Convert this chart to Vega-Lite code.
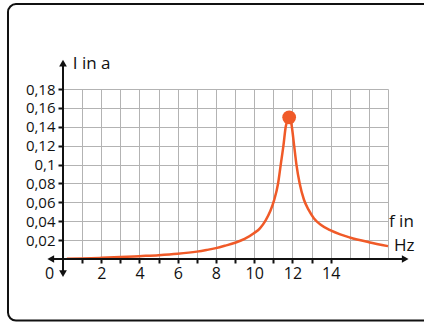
{
  "$schema": "https://vega.github.io/schema/vega-lite/v6.json",
  "width": 325,
  "height": 170,
  "autosize": "none",
  "padding": {"left": 63, "top": 89, "right": 36, "bottom": 64},
  "background": "white",
  "config": {
    "view": {"stroke": null},
    "font": "Open Sans",
    "axis": {"labelFont": "Open Sans", "labelFontSize": 16, "labelColor": "#111111", "domain": false, "gridColor": "#b3b3b3", "gridWidth": 1, "tickColor": "#111111", "tickWidth": 2}
  },
  "datasets": {
    "curve": [
      {"f": 0.2, "I": 0.0003}, {"f": 1, "I": 0.0006}, {"f": 2, "I": 0.0012}, {"f": 3, "I": 0.002},
      {"f": 4, "I": 0.003}, {"f": 5, "I": 0.004}, {"f": 6, "I": 0.0055}, {"f": 7, "I": 0.0078},
      {"f": 7.5, "I": 0.0095}, {"f": 8, "I": 0.0115}, {"f": 8.5, "I": 0.0142}, {"f": 9, "I": 0.0172},
      {"f": 9.5, "I": 0.0212}, {"f": 10, "I": 0.0275}, {"f": 10.3, "I": 0.0325}, {"f": 10.6, "I": 0.041},
      {"f": 10.85, "I": 0.051}, {"f": 11.04, "I": 0.062}, {"f": 11.25, "I": 0.08}, {"f": 11.39, "I": 0.1},
      {"f": 11.53, "I": 0.12}, {"f": 11.65, "I": 0.14}, {"f": 11.76, "I": 0.148}, {"f": 11.83, "I": 0.15},
      {"f": 11.9, "I": 0.148}, {"f": 11.97, "I": 0.14}, {"f": 12.09, "I": 0.12}, {"f": 12.21, "I": 0.1},
      {"f": 12.38, "I": 0.08}, {"f": 12.6, "I": 0.063}, {"f": 12.85, "I": 0.052}, {"f": 13.13, "I": 0.043},
      {"f": 13.5, "I": 0.036}, {"f": 14, "I": 0.0302}, {"f": 14.5, "I": 0.026}, {"f": 15, "I": 0.0228},
      {"f": 16, "I": 0.0178}, {"f": 17, "I": 0.0136}
    ],
    "peak": [{"f": 11.83, "I": 0.15}],
    "one": [{}]
  },
  "layer": [
    {
      "data": {"name": "curve"},
      "mark": {"type": "line", "color": "#f05a28", "strokeWidth": 2.5, "interpolate": "monotone"},
      "encoding": {
        "x": {"field": "f", "type": "quantitative", "scale": {"domain": [0, 17], "nice": false, "zero": false},
          "axis": {"title": null, "values": [0,1,2,3,4,5,6,7,8,9,10,11,12,13,14,15,16,17], "tickCount": 40, "grid": true,
            "tickSize": 4, "labelPadding": 2, "labelFlush": false, "labelOverlap": false,
            "labelExpr": "datum.value == 0 ? '0' : (datum.value % 2 == 0 && datum.value <= 14 ? '' + datum.value : '')",
            "labelOffset": {"condition": {"test": "datum.value == 0", "value": -14}, "value": 0},
            "tickOpacity": {"condition": {"test": "datum.value == 0 || datum.value > 14", "value": 0}, "value": 1}}},
        "y": {"field": "I", "type": "quantitative", "scale": {"domain": [0, 0.18], "nice": false, "zero": false},
          "axis": {"title": null, "values": [0, 0.02, 0.04, 0.06, 0.08, 0.1, 0.12, 0.14, 0.16, 0.18], "tickCount": 40, "grid": true,
            "tickSize": 5, "labelPadding": 3, "labelFlush": false, "labelOverlap": false, "labelFontSize": 15,
            "labelExpr": "datum.value == 0 ? '' : replace(format(datum.value, '.2~f'), '.', ',')",
            "tickOpacity": {"condition": {"test": "datum.value == 0", "value": 0}, "value": 1}}}
      }
    },
    {
      "data": {"name": "peak"},
      "mark": {"type": "point", "filled": true, "color": "#f05a28", "opacity": 1, "size": 190},
      "encoding": {
        "x": {"field": "f", "type": "quantitative", "scale": {"domain": [0, 17], "nice": false, "zero": false}},
        "y": {"field": "I", "type": "quantitative", "scale": {"domain": [0, 0.18], "nice": false, "zero": false}}
      }
    },
    {
      "data": {"name": "one"},
      "mark": {"type": "rule", "color": "#111111", "strokeWidth": 2},
      "encoding": {
        "x": {"datum": -0.6, "type": "quantitative", "scale": {"domain": [0, 17], "nice": false, "zero": false}},
        "x2": {"datum": 17.85},
        "y": {"datum": 0, "type": "quantitative", "scale": {"domain": [0, 0.18], "nice": false, "zero": false}}
      }
    },
    {
      "data": {"name": "one"},
      "mark": {"type": "rule", "color": "#111111", "strokeWidth": 2},
      "encoding": {
        "x": {"datum": 0, "type": "quantitative", "scale": {"domain": [0, 17], "nice": false, "zero": false}},
        "y": {"datum": -0.015, "type": "quantitative", "scale": {"domain": [0, 0.18], "nice": false, "zero": false}},
        "y2": {"datum": 0.205}
      }
    },
    {
      "data": {"name": "one"},
      "mark": {"type": "point", "shape": "triangle-up", "filled": true, "color": "#111111", "opacity": 1, "size": 60},
      "encoding": {
        "x": {"datum": 0, "type": "quantitative", "scale": {"domain": [0, 17], "nice": false, "zero": false}},
        "y": {"datum": 0.2075, "type": "quantitative", "scale": {"domain": [0, 0.18], "nice": false, "zero": false}}
      }
    },
    {
      "data": {"name": "one"},
      "mark": {"type": "point", "shape": "triangle-down", "filled": true, "color": "#111111", "opacity": 1, "size": 60},
      "encoding": {
        "x": {"datum": 0, "type": "quantitative", "scale": {"domain": [0, 17], "nice": false, "zero": false}},
        "y": {"datum": -0.0155, "type": "quantitative", "scale": {"domain": [0, 0.18], "nice": false, "zero": false}}
      }
    },
    {
      "data": {"name": "one"},
      "mark": {"type": "point", "shape": "triangle-left", "filled": true, "color": "#111111", "opacity": 1, "size": 60},
      "encoding": {
        "x": {"datum": -0.64, "type": "quantitative", "scale": {"domain": [0, 17], "nice": false, "zero": false}},
        "y": {"datum": 0, "type": "quantitative", "scale": {"domain": [0, 0.18], "nice": false, "zero": false}}
      }
    },
    {
      "data": {"name": "one"},
      "mark": {"type": "point", "shape": "triangle-right", "filled": true, "color": "#111111", "opacity": 1, "size": 60},
      "encoding": {
        "x": {"datum": 17.9, "type": "quantitative", "scale": {"domain": [0, 17], "nice": false, "zero": false}},
        "y": {"datum": 0, "type": "quantitative", "scale": {"domain": [0, 0.18], "nice": false, "zero": false}}
      }
    },
    {
      "data": {"name": "one"},
      "mark": {"type": "text", "align": "left", "baseline": "alphabetic", "fontSize": 17, "color": "#111111", "font": "Open Sans"},
      "encoding": {
        "x": {"datum": 0.51, "type": "quantitative", "scale": {"domain": [0, 17], "nice": false, "zero": false}},
        "y": {"datum": 0.2015, "type": "quantitative", "scale": {"domain": [0, 0.18], "nice": false, "zero": false}},
        "text": {"value": "I in a"}
      }
    },
    {
      "data": {"name": "one"},
      "mark": {"type": "text", "align": "left", "baseline": "alphabetic", "fontSize": 17, "color": "#111111", "font": "Open Sans"},
      "encoding": {
        "x": {"datum": 17.05, "type": "quantitative", "scale": {"domain": [0, 17], "nice": false, "zero": false}},
        "y": {"datum": 0.0334, "type": "quantitative", "scale": {"domain": [0, 0.18], "nice": false, "zero": false}},
        "text": {"value": "f in"}
      }
    },
    {
      "data": {"name": "one"},
      "mark": {"type": "text", "align": "left", "baseline": "alphabetic", "fontSize": 17, "color": "#111111", "font": "Open Sans"},
      "encoding": {
        "x": {"datum": 17.31, "type": "quantitative", "scale": {"domain": [0, 17], "nice": false, "zero": false}},
        "y": {"datum": 0.0084, "type": "quantitative", "scale": {"domain": [0, 0.18], "nice": false, "zero": false}},
        "text": {"value": "Hz"}
      }
    },
    {
      "data": {"name": "one"},
      "mark": {"type": "rect", "filled": false, "stroke": "#111111", "strokeWidth": 2, "cornerRadius": 8},
      "encoding": {
        "x": {"datum": -2.877, "type": "quantitative", "scale": {"domain": [0, 17], "nice": false, "zero": false}},
        "x2": {"datum": 20},
        "y": {"datum": 0.2699, "type": "quantitative", "scale": {"domain": [0, 0.18], "nice": false, "zero": false}},
        "y2": {"datum": -0.0652}
      }
    }
  ]
}
